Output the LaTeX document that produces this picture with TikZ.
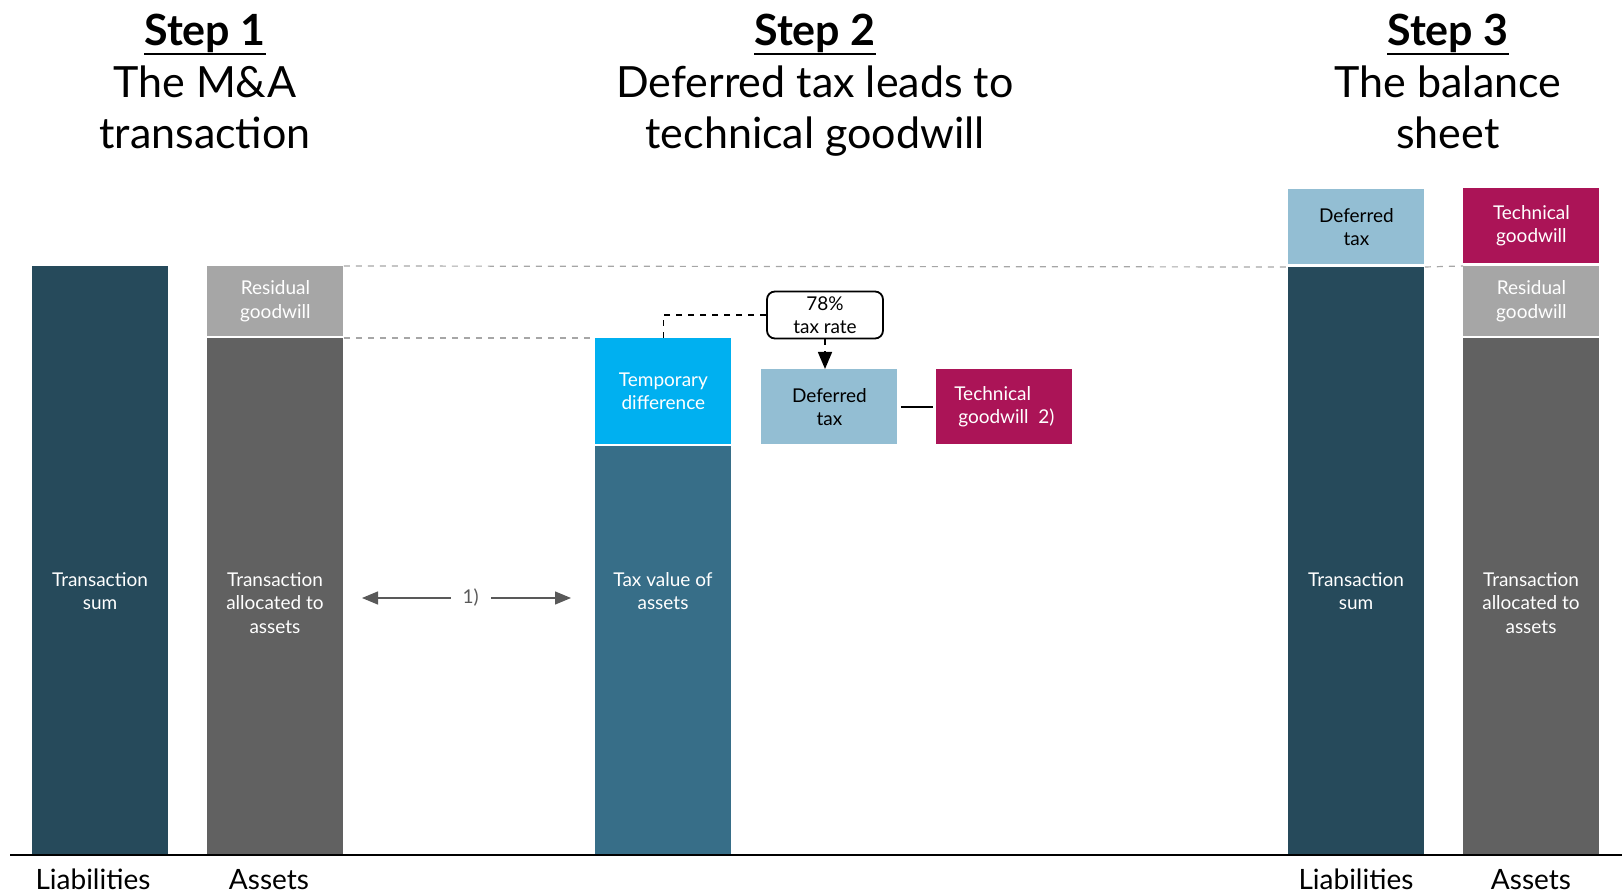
\documentclass[tikz,border=0pt]{standalone}
\usepackage{fontspec}
\setmainfont{Lato}
\usetikzlibrary{arrows.meta}

\definecolor{liabblue}{HTML}{264A5B}
\definecolor{assetgray}{HTML}{616161}
\definecolor{resgray}{HTML}{A6A6A6}
\definecolor{tempcyan}{HTML}{00B0F0}
\definecolor{taxblue}{HTML}{376E88}
\definecolor{deflight}{HTML}{93BED3}
\definecolor{techred}{HTML}{AB1457}
\definecolor{notegray}{HTML}{595959}

\newcommand{\stepuline}[1]{\setbox0=\hbox{\textbf{#1}}\rlap{\rule[-4.8pt]{\wd0}{1.1pt}}\box0}

\begin{document}
\begin{tikzpicture}[x=0.5pt, y=-0.5pt,
    every node/.style={font=\fontsize{9.5}{11.8}\selectfont},
    bar/.style={rectangle, inner sep=0pt, minimum width=68pt, anchor=north west, align=center},
    bartext/.style={align=center, text=white, inner sep=0pt, anchor=north},
    title/.style={align=center, inner sep=0pt, font=\fontsize{21.5}{25.75}\selectfont},
    axislabel/.style={anchor=base, inner sep=0pt, font=\fontsize{14}{16}\selectfont},
    guide/.style={draw=gray!70, dashed, line width=0.6pt}]

    \def\px{0.5pt}

    % Frame
    \useasboundingbox (0,0) rectangle (1622,892);

    % Titles
    \node[title] (stepA) at (205,87) {\strut\stepuline{Step 1}\\The M\&A\hspace*{0.3em}\\transaction\strut};
    \node[title] (stepB) at (815,87) {\strut\stepuline{Step 2}\\Deferred tax leads to\\technical goodwill\strut};
    \node[title] (stepC) at (1448,87) {\strut\stepuline{Step 3}\\The balance\hspace*{0.3em}\\sheet\strut};

    % Step 1: the transaction
    \node[bar, fill=liabblue, minimum height=588*\px] (liabA) at (32,266) {};
    \node[bartext] (liabAtext) at (100,572) {Transaction\\sum};
    \node[bar, fill=resgray, text=white, minimum height=70*\px] (resgwA) at (207,266) {Residual\\goodwill};
    \node[bar, fill=assetgray, minimum height=516*\px] (allocA) at (207,338) {};
    \node[bartext] (allocAtext) at (275,572) {Transaction\\allocated to\\assets};

    % Step 2: tax value and deferred tax
    \node[bar, fill=tempcyan, text=white, minimum height=106*\px] (tempdiff) at (595,338) {Temporary\\difference};
    \node[bar, fill=taxblue, minimum height=408*\px] (taxval) at (595,446) {};
    \node[bartext] (taxvaltext) at (663,572) {Tax value of\\assets};
    \node[bar, fill=deflight, minimum height=75*\px] (deftaxB) at (761,369) {Deferred\\tax};
    \node[bar, fill=techred, text=white, minimum height=75*\px, align=left] (techgwB) at (936,369) {Technical\\\hspace*{2pt}goodwill~~2)};
    \node[draw, rounded corners=4pt, line width=0.9pt, inner sep=0pt, align=center,
          minimum width=116*\px, minimum height=47*\px] (taxrate) at (825,315) {78\%\\tax rate};

    % Step 3: the balance sheet
    \node[bar, fill=deflight, minimum height=75*\px] (deftaxC) at (1288,189) {Deferred\\tax};
    \node[bar, fill=liabblue, minimum height=587*\px] (liabC) at (1288,267) {};
    \node[bartext] (liabCtext) at (1356,572) {Transaction\\sum};
    \node[bar, fill=techred, text=white, minimum height=75*\px] (techgwC) at (1463,188) {Technical\\goodwill};
    \node[bar, fill=resgray, text=white, minimum height=70*\px] (resgwC) at (1463,266) {Residual\\goodwill};
    \node[bar, fill=assetgray, minimum height=516*\px] (allocC) at (1463,338) {};
    \node[bartext] (allocCtext) at (1531,572) {Transaction\\allocated to\\assets};

    % Guide lines
    \draw[guide] (resgwA.north east) -- (liabC.north west);
    \draw[guide] (liabC.north east) -- (resgwC.north west);
    \draw[guide] (allocA.north east) -- (tempdiff.north west);

    % Connectors
    \draw[dashed, line width=0.8pt] (taxrate.west) -| (tempdiff.north);
    \draw[dashed, line width=0.8pt, -{Triangle[width=7pt,length=8.5pt]}] (taxrate.south) -- (taxrate.south |- deftaxB.north);
    \draw[line width=0.9pt, shorten <=1.5pt, shorten >=1.5pt] (deftaxB) -- (techgwB);

    \coordinate (linkL) at (362,598);
    \coordinate (linkR) at (571,598);
    \draw[notegray, line width=0.7pt, {Triangle[width=6.5pt,length=8pt]}-{Triangle[width=6.5pt,length=8pt]}]
        (linkL) -- node[pos=0.52, fill=white, text=notegray, inner xsep=6pt] (linknote) {1)} (linkR);

    % Axis
    \draw[line width=1pt] (10,855) -- (1622,855);
    \node[axislabel] (liabAlabel) at (93,889) {Liabilities};
    \node[axislabel] (assetAlabel) at (269,889) {Assets};
    \node[axislabel] (liabClabel) at (1356,889) {Liabilities};
    \node[axislabel] (assetClabel) at (1531,889) {Assets};

\end{tikzpicture}
\end{document}
